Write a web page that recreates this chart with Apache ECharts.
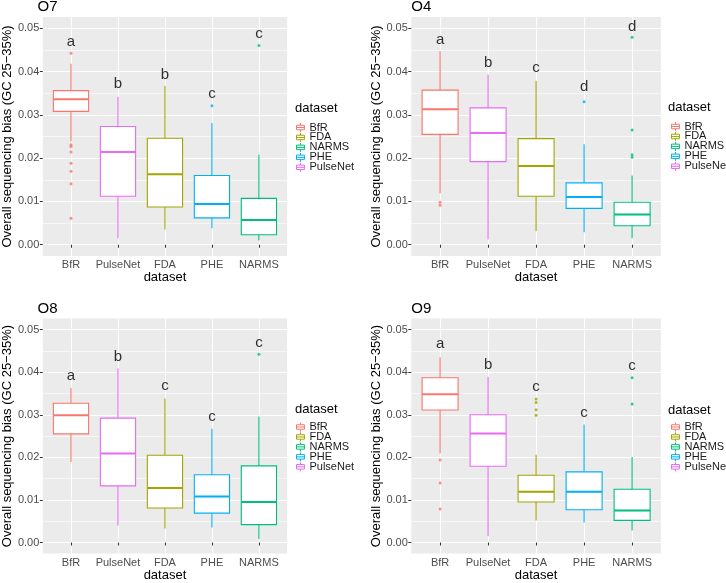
<!DOCTYPE html>
<html>
<head>
<meta charset="utf-8">
<script src="https://cdn.jsdelivr.net/npm/echarts@6/dist/echarts.min.js"></script>
<style>html,body{margin:0;padding:0;background:#fff}#c{width:726px;height:583px}</style>
</head>
<body>
<div id="c"></div>
<script>
// ---------- data ----------
const categories = ['BfR', 'PulseNet', 'FDA', 'PHE', 'NARMS'];
const legendOrder = ['BfR', 'FDA', 'NARMS', 'PHE', 'PulseNet'];
const datasetColors = { BfR: '#F8766D', FDA: '#A3A500', NARMS: '#00BF7D', PHE: '#00B0F6', PulseNet: '#E76BF3' };
const panelTitles = ['O7', 'O4', 'O8', 'O9'];
const yTicks = [0, 0.01, 0.02, 0.03, 0.04, 0.05];
const yMinorTicks = [0.005, 0.015, 0.025, 0.035, 0.045];

// box stats per category (order of `categories`): [lower whisker, Q1, median, Q3, upper whisker]
const O7_stats = [
  [0.0239, 0.0308, 0.0336, 0.0356, 0.0418],
  [0.0015, 0.0112, 0.0214, 0.0273, 0.0342],
  [0.0035, 0.0087, 0.0163, 0.0246, 0.0367],
  [0.0038, 0.0062, 0.0094, 0.0160, 0.0281],
  [0.0010, 0.0023, 0.0057, 0.0107, 0.0208]
];
const O7_outliers = [
  [0.0442, 0.0231, 0.0227, 0.0214, 0.0188, 0.0170, 0.0141, 0.0061],
  [], [], [0.0321], [0.0460]
];
const O7_letters = ['a', 'b', 'b', 'c', 'c'];
const O7_letterY = [0.0468, 0.0372, 0.0392, 0.0348, 0.0488];

const O4_stats = [
  [0.0119, 0.0255, 0.0313, 0.0357, 0.0447],
  [0.0012, 0.0192, 0.0258, 0.0316, 0.0393],
  [0.0031, 0.0112, 0.0182, 0.0245, 0.0379],
  [0.0029, 0.0084, 0.0110, 0.0143, 0.0232],
  [0.0015, 0.0044, 0.0070, 0.0098, 0.0160]
];
const O4_outliers = [
  [0.0098, 0.0091], [], [], [0.0330], [0.0479, 0.0265, 0.0208, 0.0202]
];
const O4_letters = ['a', 'b', 'c', 'd', 'd'];
const O4_letterY = [0.0474, 0.0420, 0.0408, 0.0365, 0.0504];

const O8_stats = [
  [0.0189, 0.0255, 0.0299, 0.0327, 0.0363],
  [0.0040, 0.0133, 0.0209, 0.0292, 0.0409],
  [0.0033, 0.0081, 0.0128, 0.0205, 0.0338],
  [0.0035, 0.0069, 0.0108, 0.0159, 0.0267],
  [0.0008, 0.0042, 0.0095, 0.0180, 0.0296]
];
const O8_outliers = [[], [], [], [], [0.0442]];
const O8_letters = ['a', 'b', 'c', 'c', 'c'];
const O8_letterY = [0.0391, 0.0437, 0.0368, 0.0295, 0.0469];

const O9_stats = [
  [0.0209, 0.0311, 0.0348, 0.0387, 0.0435],
  [0.0015, 0.0179, 0.0256, 0.0300, 0.0389],
  [0.0052, 0.0095, 0.0119, 0.0158, 0.0206],
  [0.0047, 0.0077, 0.0119, 0.0166, 0.0277],
  [0.0028, 0.0052, 0.0075, 0.0125, 0.0201]
];
const O9_outliers = [
  [0.0194, 0.0140, 0.0079], [], [0.0337, 0.0329, 0.0312, 0.0299], [], [0.0387, 0.0325]
];
const O9_letters = ['a', 'b', 'c', 'c', 'c'];
const O9_letterY = [0.0466, 0.0417, 0.0365, 0.0304, 0.0414];

const panelStats = [O7_stats, O4_stats, O8_stats, O9_stats];
const panelOutliers = [O7_outliers, O4_outliers, O8_outliers, O9_outliers];
const panelLetters = [O7_letters, O4_letters, O8_letters, O9_letters];
const panelLetterY = [O7_letterY, O4_letterY, O8_letterY, O9_letterY];

// ---------- layout ----------
const FONT = 'Liberation Sans, Arial, sans-serif';
const gridPos = [
  { left: 37.5, top: 17 }, { left: 411.3, top: 17 },
  { left: 37.5, top: 318.5 }, { left: 411.3, top: 318.5 }
];
const GW = 249.6, GH = 239;
const legendPos = [
  { tx: 295, ty: 101.5, lx: 296, ly: 122 },
  { tx: 668, ty: 101, lx: 671, ly: 121 },
  { tx: 295, ty: 402.5, lx: 296, ly: 421.5 },
  { tx: 668, ty: 404, lx: 671, ly: 421.5 }
];
const titleTop = [-1, -1, 301, 301.5];

function renderBox(params, api) {
  const x = api.value(0);
  const lo = api.coord([x, api.value(1)]);
  const q1 = api.coord([x, api.value(2)]);
  const md = api.coord([x, api.value(3)]);
  const q3 = api.coord([x, api.value(4)]);
  const hi = api.coord([x, api.value(5)]);
  const w = api.size([0.75, 0])[0];
  const color = api.visual('color');
  const cx = lo[0];
  return {
    type: 'group',
    children: [
      { type: 'line', shape: { x1: cx, y1: hi[1], x2: cx, y2: q3[1] }, style: { stroke: color, lineWidth: 1.1 } },
      { type: 'line', shape: { x1: cx, y1: q1[1], x2: cx, y2: lo[1] }, style: { stroke: color, lineWidth: 1.1 } },
      { type: 'rect', shape: { x: cx - w / 2, y: q3[1], width: w, height: q1[1] - q3[1] }, style: { fill: '#fff', stroke: color, lineWidth: 1.1 } },
      { type: 'line', shape: { x1: cx - w / 2, y1: md[1], x2: cx + w / 2, y2: md[1] }, style: { stroke: color, lineWidth: 2 } }
    ]
  };
}

const grids = [], xAxes = [], yAxes = [], series = [], titles = [], legends = [];
panelTitles.forEach((pt, p) => {
  grids.push({ left: gridPos[p].left, top: gridPos[p].top, width: GW, height: GH, show: true, backgroundColor: '#EBEBEB', borderWidth: 0 });
  xAxes.push({
    type: 'value', gridIndex: p, min: 0.4, max: 5.6,
    name: 'dataset', nameLocation: 'middle', nameGap: 12,
    nameTextStyle: { fontSize: 13, color: '#000', fontFamily: FONT },
    axisLine: { show: false },
    axisTick: { show: true, length: 3, lineStyle: { color: '#333', width: 1 }, customValues: [1, 2, 3, 4, 5] },
    axisLabel: { customValues: [1, 2, 3, 4, 5], formatter: v => categories[Math.round(v) - 1], fontSize: 11, color: '#4D4D4D', margin: 3.5, fontFamily: FONT },
    splitLine: { show: true, lineStyle: { color: '#fff', width: 1.1 } }
  });
  yAxes.push({
    type: 'value', gridIndex: p, min: -0.0026, max: 0.0526, position: 'left',
    name: 'Overall sequencing bias (GC 25\u221235%)', nameLocation: 'middle', nameGap: 24, nameRotate: 90,
    nameTextStyle: { fontSize: 13, color: '#000', fontFamily: FONT },
    axisLine: { show: false },
    axisTick: { show: true, length: 3, lineStyle: { color: '#333', width: 1 }, customValues: yTicks },
    axisLabel: { customValues: yTicks, formatter: v => v.toFixed(2), fontSize: 11, color: '#4D4D4D', margin: 3.5, fontFamily: FONT },
    splitLine: { show: true, lineStyle: { color: '#fff', width: 1.1 } }
  });
  yAxes.push({
    type: 'value', gridIndex: p, min: -0.0026, max: 0.0526, position: 'left',
    axisLine: { show: false },
    axisTick: { show: false, customValues: yMinorTicks },
    axisLabel: { show: false, customValues: yMinorTicks },
    splitLine: { show: true, lineStyle: { color: '#fff', width: 0.55 } }
  });
  const yIdx = p * 2;
  titles.push({ text: pt, left: gridPos[p].left, top: titleTop[p], padding: 0, textStyle: { fontSize: 15, fontWeight: 'normal', color: '#000', fontFamily: FONT } });
  titles.push({ text: 'dataset', left: legendPos[p].tx, top: legendPos[p].ty, padding: 0, textStyle: { fontSize: 13, fontWeight: 'normal', color: '#000', fontFamily: FONT } });
  legends.push({
    data: legendOrder, orient: 'vertical', left: legendPos[p].lx, top: legendPos[p].ly, padding: 0,
    itemWidth: 8, itemHeight: 9, itemGap: -1.05, selectedMode: false,
    icon: 'path://M5,0V2.5M0.6,2.5H9.4V7.5H0.6ZM0.6,5H9.4M5,7.5V10',
    itemStyle: { color: '#fff', borderColor: 'inherit', borderWidth: 1 },
    textStyle: { fontSize: 11, color: '#1A1A1A', fontFamily: FONT }
  });
  // boxes
  legendOrder.forEach(name => {
    const ci = categories.indexOf(name);
    const s = panelStats[p][ci];
    series.push({
      type: 'custom', name: name, xAxisIndex: p, yAxisIndex: yIdx,
      itemStyle: { color: datasetColors[name], borderColor: datasetColors[name] },
      renderItem: renderBox,
      encode: { x: 0, y: [1, 2, 3, 4, 5] },
      data: [[ci + 1, s[0], s[1], s[2], s[3], s[4]]],
      silent: true, z: 2
    });
  });
  // outliers
  legendOrder.forEach(name => {
    const ci = categories.indexOf(name);
    const outs = panelOutliers[p][ci];
    if (!outs.length) return;
    series.push({
      type: 'scatter', name: name, xAxisIndex: p, yAxisIndex: yIdx,
      symbol: 'circle', symbolSize: 3,
      itemStyle: { color: datasetColors[name] },
      data: outs.map(v => [ci + 1, v]), silent: true, z: 3
    });
  });
  // significance letters
  series.push({
    type: 'scatter', name: 'letters' + p, xAxisIndex: p, yAxisIndex: yIdx,
    symbolSize: 0,
    label: { show: true, position: 'inside', formatter: d => d.value[2], fontSize: 15, color: '#000', fontFamily: FONT },
    data: panelLetters[p].map((l, i) => [i + 1, panelLetterY[p][i], l]), silent: true, z: 4
  });
});

const chart = echarts.init(document.getElementById('c'), null, { renderer: 'canvas' });
chart.setOption({
  animation: false,
  backgroundColor: '#fff',
  title: titles,
  legend: legends,
  grid: grids,
  xAxis: xAxes,
  yAxis: yAxes,
  series: series
});
</script>
</body>
</html>
